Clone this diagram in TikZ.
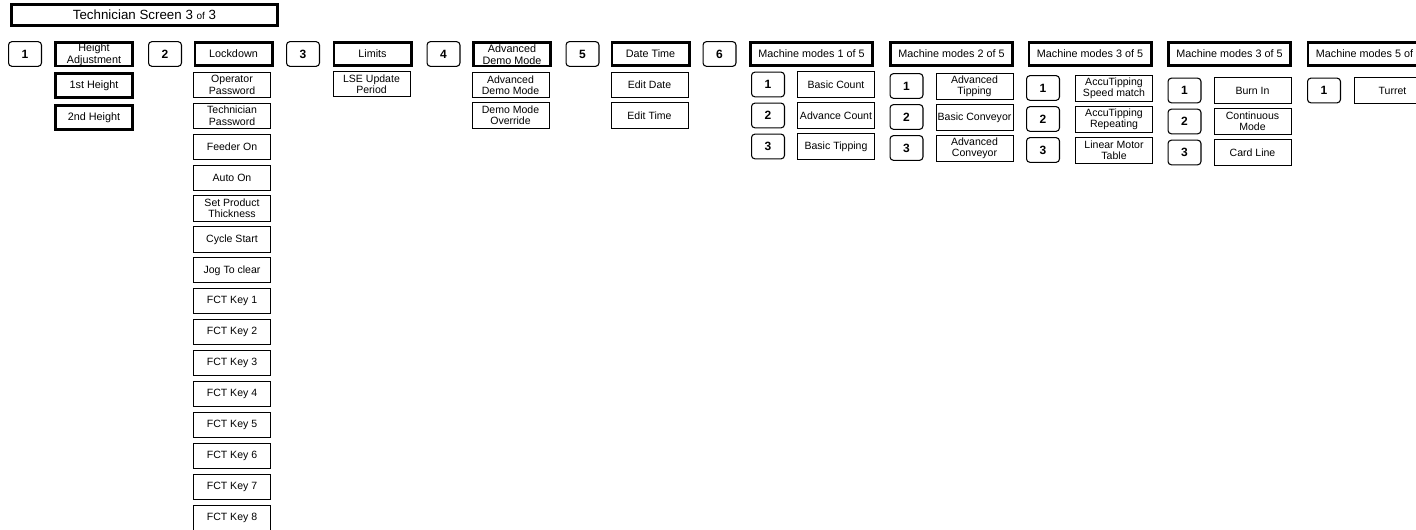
\documentclass[tikz,border=0pt]{standalone}
\usepackage{fontspec}
\setmainfont{Liberation Sans}
\begin{document}
\begin{tikzpicture}[x=0.75pt,y=-0.75pt,
    numbox/.style={draw,rounded corners=2.5pt,line width=0.8pt,minimum width=24.7pt,minimum height=18.5pt,inner sep=0pt,font=\fontsize{9}{10}\selectfont\bfseries},
    headbox/.style={draw,line width=2pt,minimum width=58pt,minimum height=17.5pt,inner sep=0pt,align=center,font=\fontsize{8.1}{9}\selectfont},
    mmbox/.style={headbox,minimum width=91.75pt},
    subbox/.style={draw,line width=0.6pt,minimum width=57.9pt,minimum height=18.9pt,inner sep=0pt,align=center,font=\fontsize{7.9}{8.5}\selectfont},
    thicksub/.style={headbox,minimum height=18.25pt}]
  \useasboundingbox (0,0) rectangle (1416,530);
  % Titel
  \node[draw,line width=2pt,minimum width=199.75pt,minimum height=16pt,inner sep=0pt,font=\fontsize{10}{12}\selectfont] (title) at (144.5,15) {Technician Screen 3 {\fontsize{7.5}{9}\selectfont of} 3};
  % Hauptzeile
  \node[numbox] (n1) at (25,54) {1};
  \node[headbox] (height) at (94,54.5) {Height\\Adjustment};
  \node[numbox] (n2) at (165,54) {2};
  \node[headbox] (lockdown) at (233.5,54) {Lockdown};
  \node[numbox] (n3) at (303,54) {3};
  \node[headbox] (limits) at (372.5,54) {Limits};
  \node[numbox] (n4) at (443.5,54) {4};
  \node[headbox] (demo) at (512,54.5) {Advanced\\Demo Mode};
  \node[numbox] (n5) at (582.5,54) {5};
  \node[headbox] (datetime) at (650.5,54) {Date Time};
  \node[numbox] (n6) at (719.5,54) {6};
  \node[mmbox] (mmA) at (811.5,54) {Machine modes 1 of 5};
  \node[mmbox] (mmB) at (951.5,54) {Machine modes 2 of 5};
  \node[mmbox] (mmC) at (1090,54) {Machine modes 3 of 5};
  \node[mmbox] (mmD) at (1229.5,54) {Machine modes 3 of 5};
  \node[mmbox] (mmE) at (1369,54) {Machine modes 5 of 5};
  % Height Adjustment
  \node[thicksub] (height1) at (94,85.5) {1st Height};
  \node[thicksub] (height2) at (94,117.5) {2nd Height};
  % Lockdown
  \foreach \t [count=\i] in {{Operator\\Password},{Technician\\Password},Feeder On,Auto On,{Set Product\\Thickness},Cycle Start,Jog To clear}
    \node[subbox] (lock\i) at (232,{54+30.9*\i}) {\t};
  \foreach \k in {1,...,8}
    \node[subbox] (fct\k) at (232,{54+30.9*(\k+7)}) {FCT Key \k};
  % Limits
  \node[subbox] (lse) at (371.5,84) {LSE Update\\Period};
  % Demo Mode
  \node[subbox] (demo1) at (510.5,85) {Advanced\\Demo Mode};
  \node[subbox] (demo2) at (510.5,115.5) {Demo Mode\\Override};
  % Date Time
  \node[subbox] (date) at (649.5,85) {Edit Date};
  \node[subbox] (time) at (649.5,115.5) {Edit Time};
  % Machine modes
  \foreach \i/\t in {1/Basic Count,2/Advance Count,3/Basic Tipping} {
    \node[numbox] (mmA-n\i) at (768,{53.5+31*\i}) {\i};
    \node[subbox] (mmA-\i) at (836,{53.5+31*\i}) {\t};
  }
  \foreach \i/\t in {1/{Advanced\\Tipping},2/Basic Conveyor,3/{Advanced\\Conveyor}} {
    \node[numbox] (mmB-n\i) at (906.5,{55+31*\i}) {\i};
    \node[subbox] (mmB-\i) at (974.5,{55.5+31*\i}) {\t};
  }
  \foreach \i/\t in {1/{AccuTipping\\Speed match},2/{AccuTipping\\Repeating},3/{Linear Motor\\Table}} {
    \node[numbox] (mmC-n\i) at (1043,{57+31*\i}) {\i};
    \node[subbox] (mmC-\i) at (1114,{57.5+31*\i}) {\t};
  }
  \foreach \i/\t in {1/Burn In,2/{Continuous\\Mode},3/Card Line} {
    \node[numbox] (mmD-n\i) at (1184.5,{59.5+31*\i}) {\i};
    \node[subbox] (mmD-\i) at (1252.5,{59.5+31*\i}) {\t};
  }
  \node[numbox] (mmE-n1) at (1324,90.5) {1};
  \node[subbox] (mmE-1) at (1392.5,90.5) {Turret};
\end{tikzpicture}
\end{document}
